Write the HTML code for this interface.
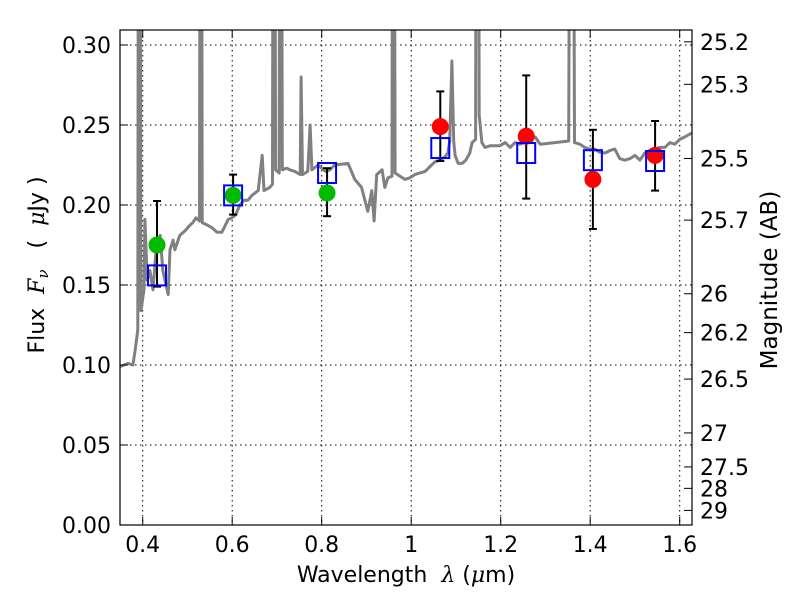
<!DOCTYPE html>
<html><head><meta charset="utf-8"><style>
body{margin:0;background:#fff;}
svg{display:block;font-family:"DejaVu Sans","Liberation Sans",sans-serif;}
text{white-space:pre;}
</style></head><body>
<svg id="chart" width="800" height="600" xmlns="http://www.w3.org/2000/svg">
<defs><clipPath id="clip"><rect x="120" y="30" width="572" height="495"/></clipPath></defs>
<rect x="0" y="0" width="800" height="600" fill="#fff"/>
<g id="grid"></g>
<g id="spec" clip-path="url(#clip)"></g>
<g id="marks"></g>
<rect x="120" y="30" width="572" height="495" fill="none" stroke="#000" stroke-width="1.2"/>
<g id="ticks"></g>
<text x="406" y="582" font-size="22" text-anchor="middle">Wavelength  <tspan font-style="italic" font-family="DejaVu Serif">λ</tspan> (<tspan font-style="italic" font-family="DejaVu Serif">μ</tspan>m)</text>
<text transform="translate(44,265) rotate(-90)" font-size="22" text-anchor="middle">Flux  <tspan font-style="italic" font-family="DejaVu Serif">F<tspan font-size="15" dy="4">ν</tspan></tspan><tspan dy="-4">   (  </tspan><tspan font-style="italic" font-family="DejaVu Serif">μ</tspan>Jy )</text>
<text transform="translate(777,280) rotate(-90)" font-size="23" text-anchor="middle">Magnitude (AB)</text>
</svg>
<script>
const xTicks=[0.4,0.6,0.8,1.0,1.2,1.4,1.6];
const xTickLabels=["0.4","0.6","0.8","1","1.2","1.4","1.6"];
const yTicks=[0,0.05,0.10,0.15,0.20,0.25,0.30];
const yTickLabels=["0.00","0.05","0.10","0.15","0.20","0.25","0.30"];
const magTicks=[25.2,25.3,25.5,25.7,26,26.2,26.5,27,27.5,28,29];
const magLabels=["25.2","25.3","25.5","25.7","26","26.2","26.5","27","27.5","28","29"];
const obsWl=[0.432,0.602,0.812,1.065,1.257,1.406,1.545];
const obsFlux=[0.175,0.206,0.2075,0.249,0.243,0.216,0.231];
const obsErrLo=[0.149,0.194,0.193,0.2275,0.204,0.185,0.209];
const obsErrHi=[0.2025,0.219,0.223,0.271,0.281,0.247,0.2525];
const obsColor=["#00bb00","#00bb00","#00bb00","#ff0000","#ff0000","#ff0000","#ff0000"];
const modelFlux=[0.156,0.206,0.220,0.2356,0.2325,0.228,0.2275];
const specWl=[0.349,0.367,0.378,0.383,0.389,0.391,0.393,0.396,0.403,0.405,0.410,0.416,0.423,0.430,0.439,0.445,0.457,0.461,0.468,0.472,0.483,0.495,0.506,0.512,0.519,0.527,0.529,0.531,0.533,0.544,0.554,0.566,0.577,0.591,0.600,0.608,0.617,0.626,0.635,0.644,0.658,0.667,0.671,0.684,0.690,0.692,0.694,0.697,0.705,0.707,0.709,0.712,0.722,0.729,0.740,0.752,0.754,0.757,0.769,0.774,0.778,0.792,0.800,0.809,0.818,0.829,0.859,0.874,0.889,0.903,0.912,0.917,0.923,0.935,0.941,0.948,0.957,0.959,0.961,0.964,0.975,0.986,0.997,1.008,1.019,1.031,1.042,1.053,1.064,1.075,1.082,1.086,1.091,1.095,1.098,1.105,1.114,1.122,1.131,1.136,1.144,1.146,1.149,1.152,1.158,1.165,1.176,1.198,1.210,1.221,1.232,1.243,1.254,1.265,1.277,1.288,1.321,1.352,1.356,1.361,1.365,1.377,1.388,1.399,1.410,1.421,1.433,1.444,1.455,1.466,1.477,1.489,1.500,1.511,1.522,1.533,1.556,1.567,1.578,1.589,1.600,1.611,1.627];
const specFlux=[0.099,0.101,0.100,0.109,0.122,0.6,0.6,0.134,0.147,0.191,0.153,0.159,0.147,0.172,0.181,0.159,0.144,0.172,0.178,0.172,0.181,0.184,0.1875,0.189,0.192,0.19,0.6,0.6,0.189,0.1875,0.186,0.183,0.183,0.191,0.192,0.194,0.200,0.203,0.203,0.206,0.209,0.231,0.209,0.211,0.213,0.6,0.6,0.222,0.22,0.6,0.6,0.222,0.223,0.222,0.221,0.219,0.28,0.219,0.221,0.25,0.222,0.225,0.223,0.221,0.222,0.225,0.226,0.216,0.211,0.196,0.209,0.19,0.219,0.222,0.211,0.217,0.218,0.6,0.6,0.22,0.218,0.216,0.217,0.219,0.22,0.221,0.224,0.227,0.228,0.23,0.2325,0.24,0.29,0.24,0.231,0.226,0.226,0.228,0.2325,0.239,0.241,0.6,0.6,0.256,0.239,0.236,0.237,0.237,0.239,0.236,0.239,0.238,0.239,0.241,0.2425,0.238,0.239,0.24,0.6,0.6,0.239,0.238,0.236,0.235,0.235,0.233,0.2325,0.234,0.235,0.229,0.228,0.229,0.231,0.228,0.2325,0.234,0.236,0.236,0.239,0.238,0.241,0.2425,0.245];

const NS="http://www.w3.org/2000/svg";
const X=v=>142.7+(v-0.4)*447.5;
const Y=v=>525-v*1600;
function mk(tag,attrs,parent){const e=document.createElementNS(NS,tag);for(const k in attrs)e.setAttribute(k,attrs[k]);parent.appendChild(e);return e;}
const grid=document.getElementById('grid'),ticks=document.getElementById('ticks'),spec=document.getElementById('spec'),marks=document.getElementById('marks');
xTicks.forEach((t,i)=>{
  const x=X(t);
  const g=mk('line',{x1:x,x2:x,y1:30,y2:525,stroke:'#000','stroke-width':1,'stroke-dasharray':'1.5,3.5'},grid);
  
  
  mk('line',{x1:x,x2:x,y1:525,y2:517,stroke:'#000'},ticks);
  mk('line',{x1:x,x2:x,y1:30,y2:38,stroke:'#000'},ticks);
  const l=mk('text',{x:x,y:552,'font-size':22,'text-anchor':'middle'},ticks);
  l.textContent=xTickLabels[i];
  
  
});
yTicks.forEach((t,i)=>{
  const y=Y(t);
  const g=mk('line',{x1:120,x2:692,y1:y,y2:y,stroke:'#000','stroke-width':1,'stroke-dasharray':'1.5,3.5'},grid);
  
  
  mk('line',{x1:120,x2:128,y1:y,y2:y,stroke:'#000'},ticks);
  const l=mk('text',{x:111,y:y+8,'font-size':22,'text-anchor':'end'},ticks);
  l.textContent=yTickLabels[i];
  
  
});
magTicks.forEach((m,i)=>{
  const f=Math.pow(10,(23.9-m)/2.5);const y=Y(f);
  mk('line',{x1:684,x2:692,y1:y,y2:y,stroke:'#000'},ticks);
  const l=mk('text',{x:700,y:y+8,'font-size':22},ticks);
  l.textContent=magLabels[i];
  
  
});
let d='';specWl.forEach((w,i)=>{d+=(i?'L':'M')+X(w).toFixed(1)+','+Y(specFlux[i]).toFixed(1);});
const p=mk('path',{d:d,fill:'none',stroke:'#808080','stroke-width':3,'stroke-linejoin':'round'},spec);


obsWl.forEach((w,i)=>{
  const x=X(w);
  const eb=mk('g',{},marks);
  
  
  mk('line',{x1:x,x2:x,y1:Y(obsErrLo[i]),y2:Y(obsErrHi[i]),stroke:'#000','stroke-width':2},eb);
  mk('line',{x1:x-4,x2:x+4,y1:Y(obsErrLo[i]),y2:Y(obsErrLo[i]),stroke:'#000','stroke-width':2},eb);
  mk('line',{x1:x-4,x2:x+4,y1:Y(obsErrHi[i]),y2:Y(obsErrHi[i]),stroke:'#000','stroke-width':2},eb);
  const c=mk('circle',{cx:x,cy:Y(obsFlux[i]),r:8.5,fill:obsColor[i]},marks);
  
  
});
obsWl.forEach((w,i)=>{
  const s=mk('rect',{x:X(w)-9,y:Y(modelFlux[i])-10,width:18,height:20,fill:'none',stroke:'#0000ff','stroke-width':2},marks);
  
  
});
</script>
</body></html>
